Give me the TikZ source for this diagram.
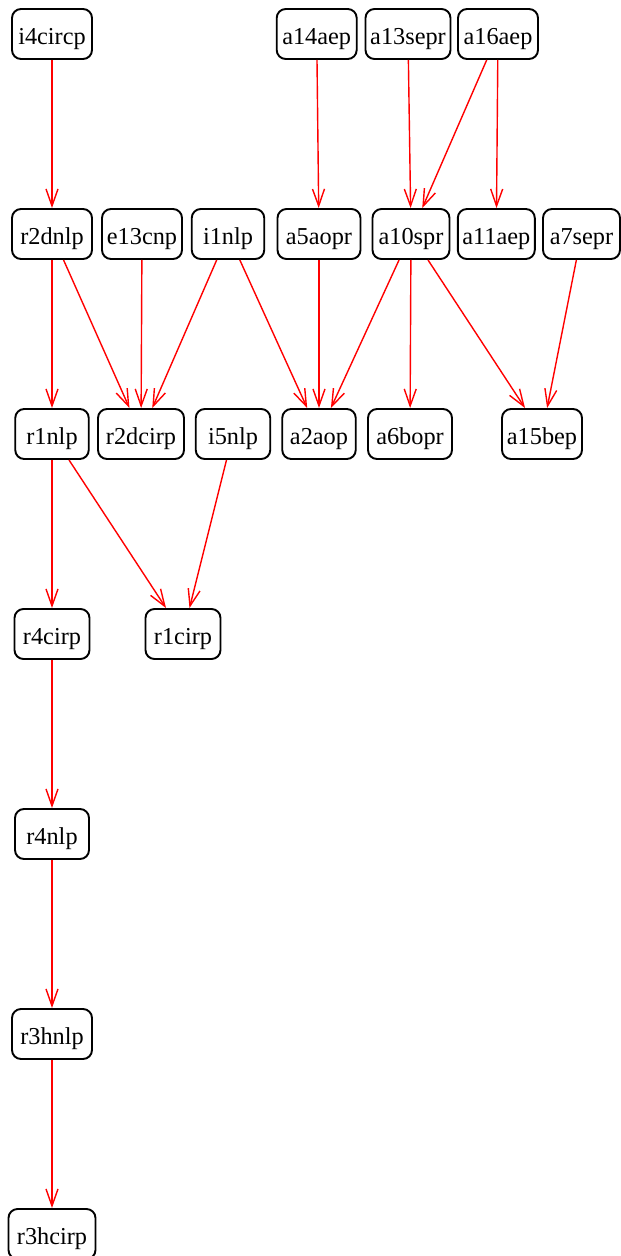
\documentclass[tikz,border=0pt]{standalone}
\usepackage{fontspec}
\setmainfont{Liberation Serif}
\usetikzlibrary{arrows.meta}
\begin{document}
\begin{tikzpicture}[x=1bp,y=-1bp,
  box/.style={draw=black, line width=1.9bp, rounded corners=9bp,
    minimum height=50bp, minimum width=#1, inner sep=0pt,
    text height=25bp, text depth=5bp,
    font=\fontsize{24.3bp}{28bp}\selectfont},
  dep/.style={draw=red, line width=1.4bp,
    -{Straight Barb[length=17bp,width=12bp]}}]
\useasboundingbox (0,0) rectangle (621,1256);
\fill[white] (0,0) rectangle (621,1256);

% rank 1
\node[box=80bp] (i4circp) at (52,34) {\makebox[0pt]{i4circp}};
\node[box=80bp] (a14aep)  at (316.7,34) {\makebox[0pt]{a14aep}};
\node[box=85bp] (a13sepr) at (408,34) {\makebox[0pt]{a13sepr}};
\node[box=80bp] (a16aep)  at (498,34) {\makebox[0pt]{a16aep}};

% rank 2
\node[box=80bp]   (r2dnlp) at (52,234)  {\makebox[0pt]{r2dnlp}};
\node[box=80bp]   (e13cnp) at (142,234) {\makebox[0pt]{e13cnp}};
\node[box=72.5bp] (i1nlp)  at (228,234) {\makebox[0pt]{i1nlp}};
\node[box=83bp]   (a5aopr) at (319,234) {\makebox[0pt]{a5aopr}};
\node[box=77bp]   (a10spr) at (411,234) {\makebox[0pt]{a10spr}};
\node[box=77bp]   (a11aep) at (496.3,234) {\makebox[0pt]{a11aep}};
\node[box=77bp]   (a7sepr) at (581.5,234) {\makebox[0pt]{a7sepr}};

% rank 3
\node[box=73.5bp] (r1nlp)   at (52,434)  {\makebox[0pt]{r1nlp}};
\node[box=86bp]   (r2dcirp) at (141,434) {\makebox[0pt]{r2dcirp}};
\node[box=74.5bp] (i5nlp)   at (233,434) {\makebox[0pt]{i5nlp}};
\node[box=73.5bp] (a2aop)   at (319,434) {\makebox[0pt]{a2aop}};
\node[box=84bp]   (a6bopr)  at (410,434) {\makebox[0pt]{a6bopr}};
\node[box=80bp]   (a15bep)  at (542,434) {\makebox[0pt]{a15bep}};

% rank 4
\node[box=75bp] (r4cirp) at (52,634)  {\makebox[0pt]{r4cirp}};
\node[box=75bp] (r1cirp) at (183,634) {\makebox[0pt]{r1cirp}};

% ranks 5-7
\node[box=74bp] (r4nlp)   at (52,834)  {\makebox[0pt]{r4nlp}};
\node[box=80bp] (r3hnlp)  at (52,1034) {\makebox[0pt]{r3hnlp}};
\node[box=87bp] (r3hcirp) at (52,1234) {\makebox[0pt]{r3hcirp}};

% dependencies
\draw[dep] (i4circp) -- (r2dnlp);
\draw[dep] (a14aep) -- (a5aopr);
\draw[dep] (a13sepr) -- (a10spr);
\draw[dep] (a16aep) -- (a10spr);
\draw[dep] (a16aep) -- (a11aep);

\draw[dep] (r2dnlp) -- (r1nlp);
\draw[dep] (r2dnlp) -- (r2dcirp);
\draw[dep] (e13cnp) -- (r2dcirp);
\draw[dep] (i1nlp) -- (r2dcirp);
\draw[dep] (i1nlp) -- (a2aop);
\draw[dep] (a5aopr) -- (a2aop);
\draw[dep] (a10spr) -- (a2aop);
\draw[dep] (a10spr) -- (a6bopr);
\draw[dep] (a10spr) -- (a15bep);
\draw[dep] (a7sepr) -- (a15bep);

\draw[dep] (r1nlp) -- (r4cirp);
\draw[dep] (r1nlp) -- (r1cirp);
\draw[dep] (i5nlp) -- (r1cirp);

\draw[dep] (r4cirp) -- (r4nlp);
\draw[dep] (r4nlp) -- (r3hnlp);
\draw[dep] (r3hnlp) -- (r3hcirp);
\end{tikzpicture}
\end{document}
